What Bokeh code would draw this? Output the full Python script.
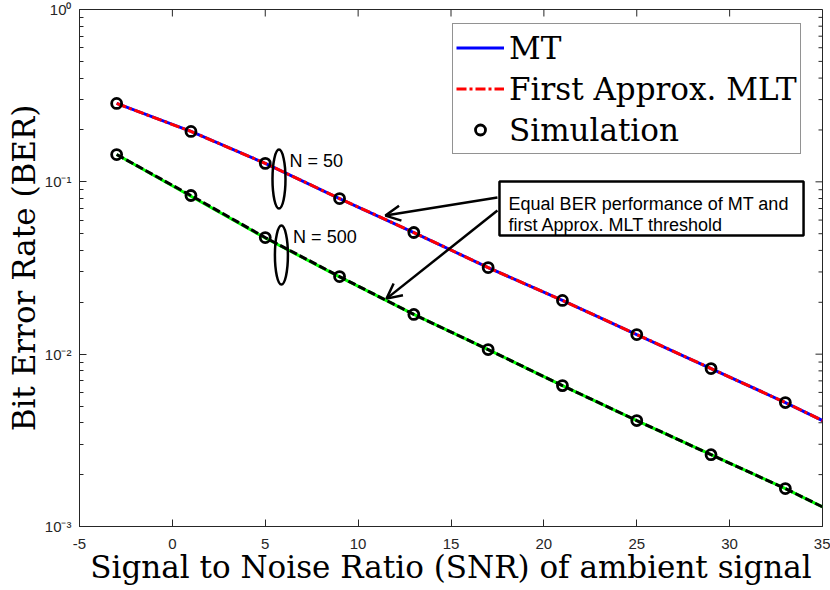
import math
from bokeh.plotting import figure
from bokeh.models import (Range1d, FixedTicker, CustomJSTickFormatter,
                          Legend, LegendItem, Arrow, OpenHead, BoxAnnotation, Label)
from bokeh.core.properties import value
from bokeh.embed import file_html
from bokeh.resources import INLINE

# ---------------- data ----------------
snr_sim = [-3, 1, 5, 9, 13, 17, 21, 25, 29, 33]
ber_sim_n50 = [0.285, 0.196, 0.128, 0.0800, 0.0508, 0.0318, 0.0205, 0.0130, 0.00825, 0.00524]
ber_sim_n500 = [0.144, 0.0833, 0.0475, 0.0282, 0.0170, 0.01063, 0.00657, 0.00412, 0.00261, 0.00166]

snr_line = [-3, 1, 5, 9, 13, 17, 21, 25, 29, 33, 35]
ber_mt_n50 = [0.285, 0.196, 0.128, 0.0800, 0.0508, 0.0318, 0.0205, 0.0130, 0.00825, 0.00524, 0.00412]
ber_approx_n50 = [0.285, 0.196, 0.128, 0.0800, 0.0508, 0.0318, 0.0205, 0.0130, 0.00825, 0.00524, 0.00412]
ber_mt_n500 = [0.144, 0.0825, 0.0472, 0.0281, 0.0170, 0.01063, 0.00657, 0.00412, 0.00261, 0.00166, 0.0013]
ber_approx_n500 = [0.144, 0.0833, 0.0475, 0.0282, 0.0170, 0.01063, 0.00657, 0.00412, 0.00261, 0.00166, 0.0013]

x_ticks = [-5, 0, 5, 10, 15, 20, 25, 30, 35]
y_ticks = [1e-3, 1e-2, 1e-1, 1e0]
y_minor = [m * 10.0 ** e for e in (-3, -2, -1) for m in range(2, 10)]

AX = "#262626"
SANS = "Liberation Sans"
SERIF = "DejaVu Serif"

p = figure(width=830, height=590, output_backend="svg", toolbar_location=None,
           x_range=Range1d(-5, 35), y_range=Range1d(1e-3, 1), y_axis_type="log",
           min_border_left=79, min_border_right=8, min_border_top=9, min_border_bottom=64,
           background_fill_color="white", border_fill_color="white",
           x_axis_label="Signal to Noise Ratio (SNR) of ambient signal",
           y_axis_label="Bit Error Rate (BER)")
p.grid.visible = False
p.outline_line_color = AX
p.outline_line_width = 1

sup = CustomJSTickFormatter(code="""
const e = Math.round(Math.log10(tick));
const m = {'-':'\u207b','0':'\u2070','1':'\u00b9','2':'\u00b2','3':'\u00b3'};
return '10' + String(e).split('').map(c => m[c]).join('');
""")
plain = CustomJSTickFormatter(code="return String(tick);")

xa = p.xaxis[0]
xa.ticker = FixedTicker(ticks=x_ticks)
xa.formatter = plain
ya = p.yaxis[0]
ya.ticker = FixedTicker(ticks=y_ticks, minor_ticks=y_minor)
ya.formatter = sup

for ax in (xa, ya):
    ax.axis_line_color = AX
    ax.major_tick_line_color = AX
    ax.minor_tick_line_color = AX
    ax.major_tick_in = 7
    ax.major_tick_out = 0
    ax.minor_tick_in = 4
    ax.minor_tick_out = 0
    ax.major_label_text_font = SANS
    ax.major_label_text_font_size = "15px"
    ax.major_label_text_color = AX
    ax.axis_label_text_font = SERIF
    ax.axis_label_text_font_size = "31px"
    ax.axis_label_text_font_style = "normal"
    ax.axis_label_text_color = "black"
xa.major_label_standoff = 12
ya.major_label_standoff = 8
xa.axis_label_standoff = -3
ya.axis_label_standoff = 0
ya.axis_label_text_baseline = "alphabetic"
xa.minor_tick_line_color = None

# ticks on the top and right edges of the box (drawn inward)
p.ray(x=x_ticks, y=[1.0] * len(x_ticks), length=7, length_units="screen",
      angle=-math.pi / 2, line_color=AX, line_width=1)
p.ray(x=[35] * len(y_ticks), y=y_ticks, length=7, length_units="screen",
      angle=math.pi, line_color=AX, line_width=1)
p.ray(x=[35] * len(y_minor), y=y_minor, length=4, length_units="screen",
      angle=math.pi, line_color=AX, line_width=1)

# ---------------- curves ----------------
r_mt = p.line(snr_line, ber_mt_n50, line_color="#0000ff", line_width=3)
r_ap = p.line(snr_line, ber_approx_n50, line_color="#ff0000", line_width=3, line_dash="10 3 3 3")
p.line(snr_line, ber_mt_n500, line_color="#00ff00", line_width=3)
p.line(snr_line, ber_approx_n500, line_color="black", line_width=3, line_dash="8 3")
r_sim = p.scatter(snr_sim, ber_sim_n50, marker="circle", size=10, fill_color=None,
                  line_color="black", line_width=2.8)
p.scatter(snr_sim, ber_sim_n500, marker="circle", size=10, fill_color=None,
          line_color="black", line_width=2.8)

# ---------------- ellipses & labels ----------------
p.ellipse(x=[5.74, 5.87], y=[0.1038, 0.0376], width=13, height=59,
          width_units="screen", height_units="screen",
          fill_color=None, line_color="black", line_width=2.5)
p.text(x=[6.3, 6.5], y=[0.132, 0.0478], text=["N = 50", "N = 500"],
       text_font=value(SANS), text_font_size="18px", text_baseline="middle",
       text_align="left", text_color="black")

# ---------------- annotation box ----------------
p.add_layout(BoxAnnotation(left=17.61, right=33.98, top=0.1004, bottom=0.0488,
                           fill_color="white", fill_alpha=1.0,
                           line_color="black", line_alpha=1.0, line_width=2.5,
                           level="annotation"))
p.add_layout(Label(x=18.1, y=0.0748, text="Equal BER performance of MT and",
                   text_font=SANS, text_font_size="18px", text_baseline="alphabetic",
                   text_color="black", level="overlay"))
p.add_layout(Label(x=18.1, y=0.0558, text="first Approx. MLT threshold",
                   text_font=SANS, text_font_size="18px", text_baseline="alphabetic",
                   text_color="black", level="overlay"))

for (xs, ys, xe, ye) in [(17.5, 0.0811, 11.47, 0.0637), (17.5, 0.0681, 11.53, 0.0210)]:
    p.add_layout(Arrow(end=OpenHead(size=15, line_width=2.5, line_color="black"),
                       x_start=xs, y_start=ys, x_end=xe, y_end=ye,
                       line_width=2.5, line_color="black"))

# ---------------- legend ----------------
legend = Legend(items=[LegendItem(label="MT", renderers=[r_mt]),
                       LegendItem(label="First Approx. MLT", renderers=[r_ap]),
                       LegendItem(label="Simulation", renderers=[r_sim])],
                location=(373, 372), label_text_font=SERIF, label_text_font_size="31px",
                label_text_color="black", glyph_width=48, glyph_height=25, label_height=41,
                label_standoff=5, padding=3, spacing=0, margin=0,
                border_line_color=AX, border_line_width=1, background_fill_color="white",
                background_fill_alpha=1.0)
p.add_layout(legend, "center")

open("out.html", "w").write(file_html(p, INLINE))
